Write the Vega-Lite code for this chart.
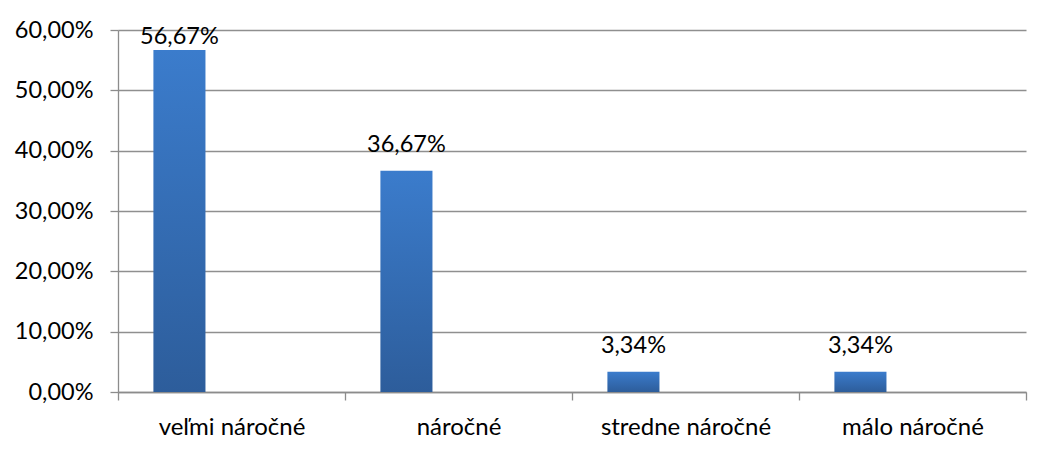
{
  "$schema": "https://vega.github.io/schema/vega-lite/v6.json",
  "autosize": "none",
  "width": 908,
  "height": 362,
  "padding": {"left": 118, "top": 30, "right": 29, "bottom": 73},
  "background": "white",
  "data": {
    "values": [
      {"kategoria": "veľmi náročné", "series": "Rad 1", "podiel": 0.5667},
      {"kategoria": "náročné", "series": "Rad 1", "podiel": 0.3667},
      {"kategoria": "stredne náročné", "series": "Rad 1", "podiel": 0.0334},
      {"kategoria": "málo náročné", "series": "Rad 1", "podiel": 0.0334}
    ]
  },
  "encoding": {
    "x": {
      "field": "kategoria",
      "type": "nominal",
      "sort": null,
      "scale": {"paddingInner": 0, "paddingOuter": 0},
      "axis": {
        "title": null,
        "labelAngle": 0,
        "tickBand": "extent",
        "tickSize": 8,
        "tickColor": "#8c8c8c",
        "domainColor": "#8c8c8c",
        "labelPadding": 15,
        "labelBaseline": "top",
        "labelFontSize": 24,
        "grid": false
      }
    },
    "xOffset": {
      "field": "series",
      "type": "nominal",
      "scale": {"domain": ["Rad 1", "Rad 2", "Rad 3"], "paddingInner": 0, "paddingOuter": 0.68}
    },
    "y": {
      "field": "podiel",
      "type": "quantitative",
      "scale": {"domain": [0, 0.6], "nice": false},
      "axis": {
        "title": null,
        "format": ".2%",
        "values": [0, 0.1, 0.2, 0.3, 0.4, 0.5, 0.6],
        "tickSize": 8,
        "tickColor": "#8c8c8c",
        "domainColor": "#8c8c8c",
        "labelPadding": 17,
        "grid": true,
        "gridColor": "#8f8f8f",
        "gridWidth": 1.3
      }
    }
  },
  "layer": [
    {
      "mark": {
        "type": "bar",
        "color": {
          "gradient": "linear",
          "x1": 0, "y1": 0, "x2": 0, "y2": 1,
          "stops": [
            {"offset": 0, "color": "#3b7ccc"},
            {"offset": 1, "color": "#2d5d9b"}
          ]
        }
      }
    },
    {
      "transform": [{"filter": "datum.podiel > 0.5"}],
      "mark": {"type": "text", "baseline": "alphabetic", "dy": -6, "font": "Lato", "fontSize": 23.5, "color": "#000000"},
      "encoding": {"text": {"field": "podiel", "type": "quantitative", "format": ".2%"}}
    },
    {
      "transform": [{"filter": "datum.podiel <= 0.5"}],
      "mark": {"type": "text", "baseline": "alphabetic", "dy": -19, "font": "Lato", "fontSize": 23.5, "color": "#000000"},
      "encoding": {"text": {"field": "podiel", "type": "quantitative", "format": ".2%"}}
    }
  ],
  "config": {
    "locale": {"number": {"decimal": ",", "thousands": " ", "grouping": [3], "currency": ["", " €"]}},
    "view": {"stroke": null},
    "axis": {
      "labelFont": "Lato",
      "labelFontSize": 23.5,
      "labelColor": "#000000",
      "domainWidth": 1.3,
      "tickWidth": 1.3
    }
  }
}
